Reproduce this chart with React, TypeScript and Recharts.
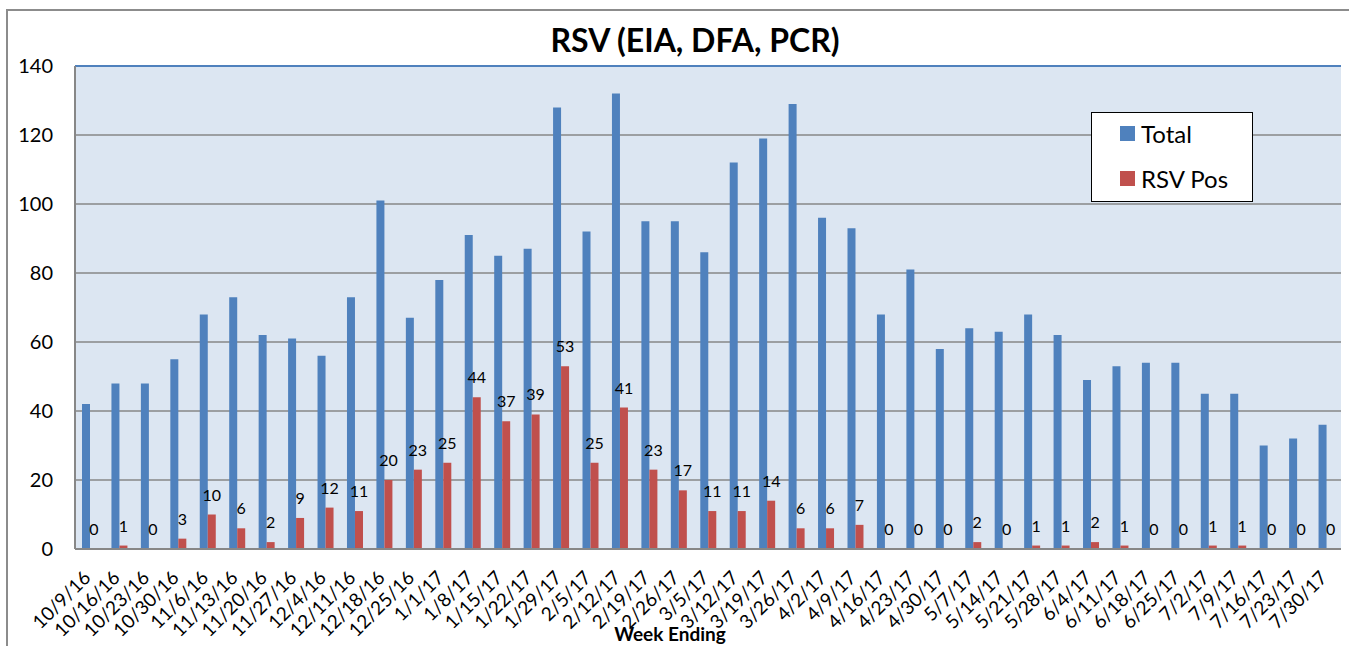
import { BarChart, Bar, XAxis, YAxis, CartesianGrid, LabelList, Legend, ReferenceLine } from 'recharts'

const weeks = [
  '10/9/16', '10/16/16', '10/23/16', '10/30/16', '11/6/16', '11/13/16', '11/20/16', '11/27/16',
  '12/4/16', '12/11/16', '12/18/16', '12/25/16', '1/1/17', '1/8/17', '1/15/17', '1/22/17',
  '1/29/17', '2/5/17', '2/12/17', '2/19/17', '2/26/17', '3/5/17', '3/12/17', '3/19/17',
  '3/26/17', '4/2/17', '4/9/17', '4/16/17', '4/23/17', '4/30/17', '5/7/17', '5/14/17',
  '5/21/17', '5/28/17', '6/4/17', '6/11/17', '6/18/17', '6/25/17', '7/2/17', '7/9/17',
  '7/16/17', '7/23/17', '7/30/17',
]
const totals = [
  42, 48, 48, 55, 68, 73, 62, 61, 56, 73, 101, 67, 78, 91, 85, 87, 128, 92, 132, 95, 95, 86,
  112, 119, 129, 96, 93, 68, 81, 58, 64, 63, 68, 62, 49, 53, 54, 54, 45, 45, 30, 32, 36,
]
const rsvPos = [
  0, 1, 0, 3, 10, 6, 2, 9, 12, 11, 20, 23, 25, 44, 37, 39, 53, 25, 41, 23, 17, 11, 11, 14, 6, 6,
  7, 0, 0, 0, 2, 0, 1, 1, 2, 1, 0, 0, 1, 1, 0, 0, 0,
]
const yTicks = [0, 20, 40, 60, 80, 100, 120, 140]

const data = weeks.map((week, i) => ({ week, total: totals[i], pos: rsvPos[i] }))

const FONT = 'Lato, "Open Sans", sans-serif'

// rotated week labels, right end hanging under the category
const WeekTick = ({ x, y, payload }: any) => (
  <text
    x={x + 2}
    y={y + 22}
    transform={`rotate(-45 ${x + 2} ${y + 22})`}
    textAnchor="end"
    fontSize={19}
    fontFamily={FONT}
    fill="#000"
  >
    {payload.value}
  </text>
)

const PosLabel = ({ x, y, width, value }: any) => (
  <text x={x + width / 2} y={y - 14} textAnchor="middle" fontSize={16} fontFamily={FONT} fill="#000">
    {value}
  </text>
)

const LegendBox = () => (
  <div style={{ position: 'relative', width: 160, height: 88, background: '#fff', border: '1.5px solid #000', fontFamily: FONT, fontSize: 24, color: '#000' }}>
    <div style={{ display: 'flex', alignItems: 'center', position: 'absolute', left: 28, top: 6 }}>
      <span style={{ width: 15, height: 15, background: '#4F81BD', marginRight: 6 }} />
      Total
    </div>
    <div style={{ display: 'flex', alignItems: 'center', position: 'absolute', left: 28, top: 51 }}>
      <span style={{ width: 15, height: 15, background: '#C0504D', marginRight: 6 }} />
      RSV Pos
    </div>
  </div>
)

export default function App() {
  return (
    <div style={{ position: 'absolute', left: 0, top: 0, width: 1349, height: 646, background: '#fff', overflow: 'hidden' }}>
      <div style={{ position: 'absolute', left: 6, top: 9, width: 1400, height: 700, borderLeft: '2px solid #8c8c8c', borderTop: '2px solid #8c8c8c' }} />
      <div style={{ position: 'absolute', left: 0, width: 1390, top: 24, lineHeight: '32px', textAlign: 'center', fontFamily: FONT, fontWeight: 700, fontSize: 32 }}>
        RSV (EIA, DFA, PCR)
      </div>
      <BarChart
        width={1349}
        height={646}
        data={data}
        margin={{ top: 66, right: 8, left: 15, bottom: 0 }}
        barGap={0}
        barSize={8}
        style={{ position: 'absolute', left: 0, top: 0 }}
      >
        <CartesianGrid vertical={false} fill="#DCE6F2" stroke="#878787" strokeWidth={1.5} />
        <XAxis
          dataKey="week"
          interval={0}
          height={97}
          tick={<WeekTick />}
          tickLine={false}
          axisLine={{ stroke: '#878787', strokeWidth: 2 }}
        />
        <YAxis
          domain={[0, 140]}
          ticks={yTicks}
          width={60}
          tickLine={false}
          tickSize={0}
          tickMargin={22}
          axisLine={{ stroke: '#878787', strokeWidth: 2 }}
          tick={{ fontSize: 20, fontFamily: FONT, fill: '#000' }}
        />
        <YAxis yAxisId="r" orientation="right" width={0} domain={[0, 140]} tick={false} tickLine={false} axisLine={{ stroke: '#4F81BD', strokeWidth: 2 }} />
        <ReferenceLine y={140} stroke="#4F81BD" strokeWidth={2} />
        <Legend
          layout="horizontal"
          align="center"
          verticalAlign="middle"
          content={<LegendBox />}
          wrapperStyle={{ position: 'absolute', left: 1091, top: 112, width: 163, height: 91 }}
        />
        <Bar dataKey="total" name="Total" fill="#4F81BD" isAnimationActive={false} />
        <Bar dataKey="pos" name="RSV Pos" fill="#C0504D" minPointSize={0.01} isAnimationActive={false}>
          <LabelList dataKey="pos" content={<PosLabel />} />
        </Bar>
      </BarChart>
      <div style={{ position: 'absolute', left: 570, width: 200, top: 622, textAlign: 'center', fontFamily: FONT, fontWeight: 700, fontSize: 19 }}>
        Week Ending
      </div>
    </div>
  )
}
